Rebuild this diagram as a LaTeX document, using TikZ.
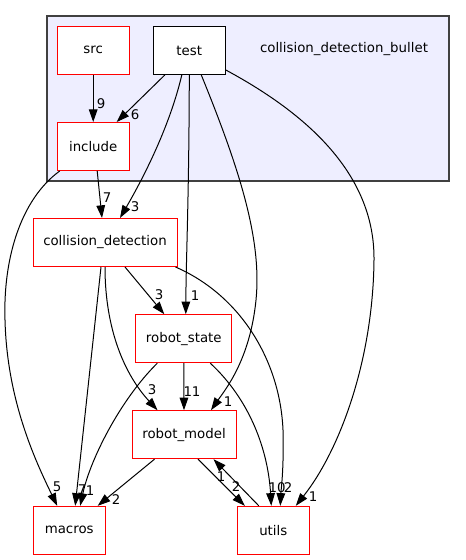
\documentclass[tikz,border=0pt]{standalone}
\usepackage{fontspec}
\setmainfont{DejaVu Sans}
\usepackage{tikz}
\usetikzlibrary{arrows.meta,calc}

\definecolor{clusterfill}{HTML}{EEEEFF}
\definecolor{clusterline}{HTML}{404040}

\tikzset{
  dirbox/.style={draw=red, fill=white, line width=0.75pt, minimum height=36pt,
    inner sep=0pt, font=\fontsize{10}{12}\selectfont},
  dep/.style={black, line width=0.75pt, -{Triangle[length=9.5pt,width=6.5pt]}},
  elabel/.style={inner sep=0pt, font=\fontsize{10}{12}\selectfont}
}

\begin{document}
\begin{tikzpicture}[x=0.75pt, y=-0.75pt]

\useasboundingbox (0,0) rectangle (465,560);

% collision_detection_bullet cluster
\filldraw[fill=clusterfill, draw=clusterline, line width=0.9pt] (47,16) rectangle (449,181);
\path 
(344,49) node [font=\fontsize{10}{12}\selectfont] (bullet) {collision\_detection\_bullet};

% directories inside the cluster
\node[dirbox, minimum width=54pt] (src) at (93.2,50.3) {src};
\node[dirbox, draw=black, minimum width=54pt] (test) at (189.3,50.5) {test};
\node[dirbox, minimum width=54pt] (include) at (93.2,146.5) {include};

% other directories
\node[dirbox, minimum width=108pt] (colldet) at (105,242.5) {collision\_detection};
\node[dirbox, minimum width=72pt] (rstate) at (183.8,338.7) {robot\_state};
\node[dirbox, minimum width=78pt] (rmodel) at (184,434.7) {robot\_model};
\node[dirbox, minimum width=54pt] (macros) at (69.2,530.3) {macros};
\node[dirbox, minimum width=54pt] (utils) at (273.3,530.3) {utils};


% src and test
\draw[dep] (src.south) -- (include.north)
  node[elabel] (l9) at (101,104) {9};
\draw[dep] ($(test.south west)+(12,0)$) -- ($(include.north east)+(-13,0)$)
  node[elabel] (l6) at (135,115) {6};
\draw[dep] ($(test.south west)+(29,0)$) .. controls (170,125) and (145,175) .. ($(colldet.north)+(15,0)$)
  node[elabel] (l3a) at (135,207) {3};
\draw[dep] (test.south) .. controls (189,200) and (186,260) .. ($(rstate.north)+(2,0)$)
  node[elabel] (l1a) at (195,296) {1};
\draw[dep] ($(test.south)+(12,0)$) .. controls (240,170) and (262,240) .. (256,300)
  .. controls (250,360) and (225,390) .. ($(rmodel.north)+(27,0)$)
  node[elabel] (l1b) at (228,402) {1};
\draw[dep] ($(test.east)+(0,19.5)$) .. controls (300,110) and (375,170) .. (374,260)
  .. controls (373,360) and (340,450) .. ($(utils.north east)+(-14,0)$)
  node[elabel] (l1c) at (313,497) {1};

% include
\draw[dep] ($(include.south)+(4,0)$) -- ($(colldet.north)+(-3,0)$)
  node[elabel] (l7a) at (107,198) {7};
\draw[dep] ($(include.south west)+(3,0)$) .. controls (20,200) and (3,260) .. (5,320)
  .. controls (7,400) and (35,460) .. ($(macros.north)+(-12,0)$)
  node[elabel] (l5) at (57,487) {5};

% collision_detection
\draw[dep] ($(colldet.south)+(20,0)$) -- ($(rstate.north west)+(29,0)$)
  node[elabel] (l3b) at (159,295) {3};
\draw[dep] ($(colldet.south)+(-4,0)$) -- ($(macros.north)+(6,0)$)
  node[elabel] (l7b) at (82,490) {7};
\draw[dep] (colldet.south) .. controls (105,330) and (125,375) .. ($(rmodel.north west)+(26,0)$)
  node[elabel] (l3c) at (152,390) {3};
\draw[dep] ($(colldet.south east)+(-2,0)$) .. controls (240,295) and (280,360) .. (283,430)
  .. controls (284,470) and (281,490) .. ($(utils.north)+(7,0)$)
  node[elabel] (l2a) at (288,488) {2};

% robot_state
\draw[dep] (rstate.south) -- (rmodel.north)
  node[elabel] (l11) at (192,392) {11};
\draw[dep] ($(rstate.south west)+(22,0)$) .. controls (120,400) and (90,460) .. ($(macros.north)+(11,0)$)
  node[elabel] (l1d) at (90,491) {1};
\draw[dep] ($(rstate.south east)+(-22,0)$) .. controls (250,400) and (268,450) .. ($(utils.north)+(-2,0)$)
  node[elabel] (l10) at (277,488) {10};

% robot_model and utils
\draw[dep] ($(rmodel.south west)+(23,0)$) -- ($(macros.north east)+(-8,0)$)
  node[elabel] (l2b) at (116,500) {2};
\draw[dep] ($(rmodel.south)+(14,0)$) -- ($(utils.north west)+(8,0)$)
  node[elabel] (l2c) at (236,487) {2};
\draw[dep] ($(utils.north west)+(22,0)$) -- ($(rmodel.south east)+(-23,0)$)
  node[elabel] (l1e) at (221,477) {1};

\end{tikzpicture}
\end{document}
